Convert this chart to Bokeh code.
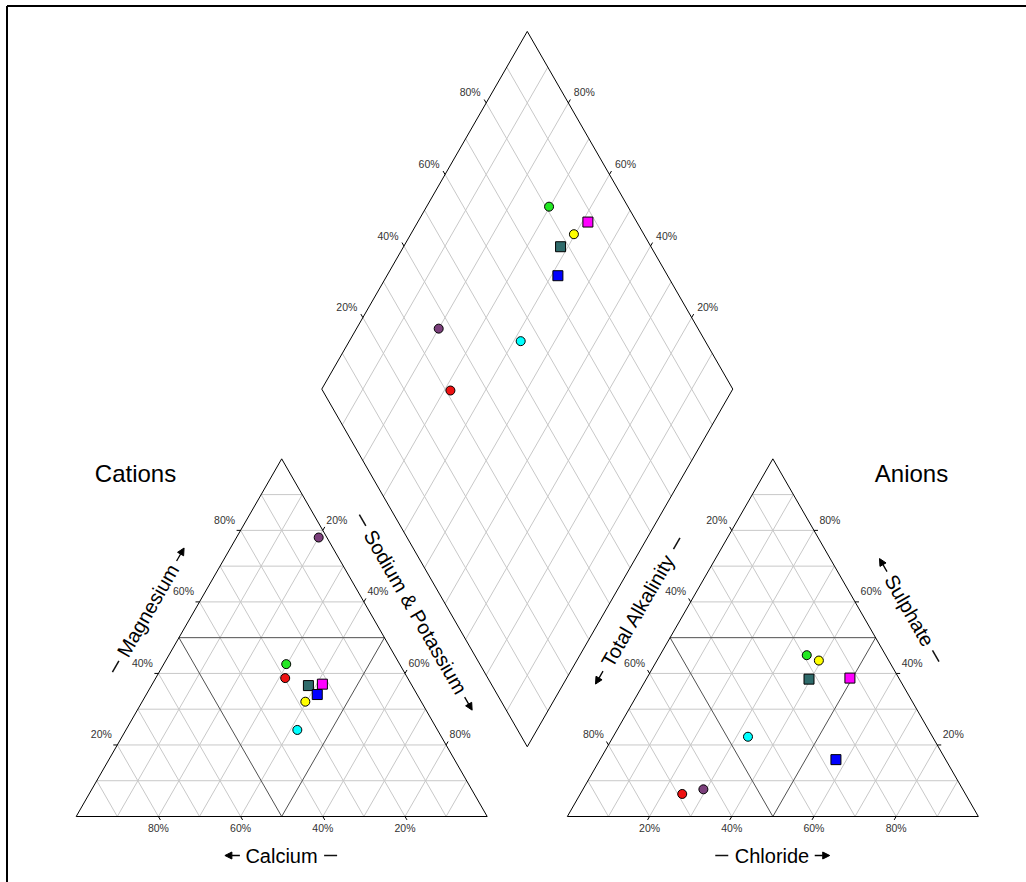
import numpy as np
from bokeh.plotting import figure
from bokeh.models import Range1d, ColumnDataSource, Arrow, NormalHead
from bokeh.embed import file_html
from bokeh.resources import INLINE
from bokeh.core.properties import value

# ---------------- data (percent of meq) ----------------
sample_colors = ["#7B3F7B", "#22E822", "#EE1111", "#2F6B6B", "#FF00FF", "#0000FF", "#FFFF00", "#00FFFF"]
sample_markers = ["circle", "circle", "circle", "square", "square", "square", "circle", "circle"]
calcium = [2.0, 27.6, 29.8, 25.2, 21.6, 24.3, 28.2, 34.1]
magnesium = [78.0, 42.6, 38.7, 36.6, 37.0, 34.1, 32.1, 24.2]
sodium_potassium = [20.0, 29.8, 31.5, 38.2, 41.4, 41.6, 39.7, 41.7]
chloride = [29.3, 35.7, 24.8, 39.6, 49.4, 57.4, 39.4, 32.8]
sulphate = [7.6, 45.1, 6.3, 38.4, 38.7, 15.9, 43.6, 22.3]
alkalinity = [63.1, 19.2, 68.9, 22.0, 11.9, 26.7, 17.0, 44.9]
tick_values = [20, 40, 60, 80]
tick_labels = ["20%", "40%", "60%", "80%"]

# ---------------- geometry ----------------
S3 = np.sqrt(3) / 2
G = 0.195            # gap between triangles (in triangle-side units)
PX_X, PX_Y = 411.0, 413.0   # pixels per unit
OX, OY = 75.7, 816.0        # position of cation triangle's lower-left corner
FONT = "Liberation Sans"

def at(px, py):
    return ((px - OX) / PX_X, (OY - py) / PX_Y)

def off(dx, dy):
    # pixel offset (dy positive = down) to unit offset
    return (dx / PX_X, -dy / PX_Y)

W, H = 1026, 882
x0, y1 = at(0, 0)
x1, y0 = at(W, H)

p = figure(width=W, height=H, x_range=Range1d(x0, x1), y_range=Range1d(y0, y1),
           output_backend="svg", toolbar_location=None, min_border=0)
p.axis.visible = False
p.grid.visible = False
p.outline_line_color = None
p.background_fill_color = "white"
p.border_fill_color = "white"

# frame lines (top & left)
bx, by = at(6.5, 5.5)
p.line([bx, x1], [by, by], line_color="black", line_width=2)
p.line([bx, bx], [by, y0], line_color="black", line_width=2)

LIGHT = "#c8c8c8"
DARK = "#505050"

def seg_collect(segs, x_a, y_a, x_b, y_b):
    segs[0].append([x_a, x_b]); segs[1].append([y_a, y_b])

light = ([], [])
dark = ([], [])
ks = [k / 10 for k in range(1, 10)]

def tri_grid(ox):
    for k in ks:
        tgt = dark if abs(k - 0.5) < 1e-9 else light
        seg_collect(tgt, ox + k / 2, k * S3, ox + 1 - k / 2, k * S3)
        seg_collect(tgt, ox + 1 - k, 0, ox + (1 - k) / 2, (1 - k) * S3)
        seg_collect(tgt, ox + k, 0, ox + k + (1 - k) / 2, (1 - k) * S3)

tri_grid(0.0)
tri_grid(1 + G)

# diamond grid
bxd, byd = 1 + G / 2, G * S3
for k in ks:
    sx, sy = bxd - k / 2, byd + k * S3
    seg_collect(light, sx, sy, sx + 0.5, sy + S3)
    sx, sy = bxd + k / 2, byd + k * S3
    seg_collect(light, sx, sy, sx - 0.5, sy + S3)

p.multi_line(light[0], light[1], line_color=LIGHT, line_width=1)
p.multi_line(dark[0], dark[1], line_color=DARK, line_width=1)

# outlines
p.line([0, 1, 0.5, 0], [0, 0, S3, 0], line_color="black", line_width=1)
p.line([1 + G, 2 + G, 1.5 + G, 1 + G], [0, 0, S3, 0], line_color="black", line_width=1)
p.line([bxd, bxd - 0.5, bxd, bxd + 0.5, bxd], [byd, byd + S3, byd + 2 * S3, byd + S3, byd],
       line_color="black", line_width=1)

# ticks and tick labels
tick_xs, tick_ys = [], []
lab_x, lab_y, lab_t = [], [], []
TL = 4.0
def add_tick(x, y, dirx, diry, label, ldx, ldy):
    n = np.hypot(dirx, diry)
    tx, ty = off(TL * dirx / n, -TL * diry / n)
    tick_xs.append([x, x + tx]); tick_ys.append([y, y + ty])
    ox_, oy_ = off(ldx, ldy)
    lab_x.append(x + ox_); lab_y.append(y + oy_); lab_t.append(label)

for v, lab in zip(tick_values, tick_labels):
    k = v / 100
    add_tick(1 - k, 0, 0.5, -S3, lab, 0, 11)
    add_tick(k / 2, k * S3, -1, 0, lab, -16, -10.5)
    add_tick(k + (1 - k) / 2, (1 - k) * S3, 0.5, S3, lab, 14, -10.5)
    add_tick(1 + G + k, 0, -0.5, -S3, lab, 0, 11)
    add_tick(1 + G + (1 - k) / 2, (1 - k) * S3, -0.5, S3, lab, -15, -10.5)
    add_tick(1 + G + 1 - k + k / 2, k * S3, 1, 0, lab, 16, -10.5)
    add_tick(bxd - 0.5 + k / 2, byd + S3 + k * S3, -0.5, S3, lab, -16, -10.5)
    add_tick(bxd + 0.5 - k / 2, byd + S3 + k * S3, 0.5, S3, lab, 16, -10.5)

p.multi_line(tick_xs, tick_ys, line_color="black", line_width=1)
p.text(lab_x, lab_y, text=lab_t, text_font=value(FONT), text_font_size=value("10.5px"),
       text_align="center", text_baseline="middle", text_color="#333333")

# titles
def title(px, py, txt, size, angle=0.0):
    x, y = at(px, py)
    p.text([x], [y], text=[txt], angle=angle, text_font=value(FONT), text_font_size=value(size),
           text_align="center", text_baseline="middle", text_color="black")

title(135, 473, "Cations", "24px")
title(911, 473, "Anions", "24px")

# approximate Arial/Liberation Sans advance widths (em)
CW = {"C": .722, "a": .556, "l": .222, "c": .5, "i": .222, "u": .556, "m": .833, "h": .556,
      "o": .556, "r": .333, "d": .556, "e": .556, "M": .833, "g": .556, "n": .556, "s": .5,
      "S": .667, " ": .278, "&": .667, "P": .667, "t": .278, "T": .611, "A": .667, "k": .5,
      "y": .5, "p": .556}

def axis_title(px, py, word, angle_deg, arrow_side, size=20):
    a = np.deg2rad(angle_deg)
    dx, dy = np.cos(a), -np.sin(a)          # page-pixel direction of reading
    title(px, py, word, f"{size}px", a)
    half = sum(CW.get(ch, .556) for ch in word) * size / 2
    d = half + 13
    acx, acy = px + arrow_side * d * dx, py + arrow_side * d * dy
    sx, sy = at(acx - arrow_side * 7.5 * dx, acy - arrow_side * 7.5 * dy)
    ex, ey = at(acx + arrow_side * 7.5 * dx, acy + arrow_side * 7.5 * dy)
    p.add_layout(Arrow(end=NormalHead(size=7, fill_color="black", line_color="black", line_width=1),
                       x_start=sx, y_start=sy, x_end=ex, y_end=ey,
                       line_color="black", line_width=1.3))
    dcx, dcy = px - arrow_side * d * dx, py - arrow_side * d * dy
    s1 = at(dcx - 6.5 * dx, dcy - 6.5 * dy)
    s2 = at(dcx + 6.5 * dx, dcy + 6.5 * dy)
    p.segment([s1[0]], [s1[1]], [s2[0]], [s2[1]], line_color="#111111", line_width=1.5)

axis_title(281, 855, "Calcium", 0, -1)
axis_title(771.5, 855, "Chloride", 0, 1)
axis_title(147.5, 610, "Magnesium", 60, 1)
axis_title(415, 611.5, "Sodium & Potassium", -60, 1)
axis_title(637.5, 610, "Total Alkalinity", 60, -1)
axis_title(909, 610, "Sulphate", -60, -1)

# ---------------- points ----------------
ca = np.array(calcium); mg = np.array(magnesium); na = np.array(sodium_potassium)
cl = np.array(chloride); so4 = np.array(sulphate); alk = np.array(alkalinity)
cs = ca + mg + na
ca, mg, na = ca / cs, mg / cs, na / cs
as_ = cl + so4 + alk
cl, so4, alk = cl / as_, so4 / as_, alk / as_

cat_x = na + mg / 2
cat_y = mg * S3
an_x = 1 + G + cl + so4 / 2
an_y = so4 * S3
camg = ca + mg
clso4 = cl + so4
dia_x = bxd + (clso4 - camg) / 2
dia_y = byd + (camg + clso4) * S3

src = ColumnDataSource(dict(cx=cat_x, cy=cat_y, ax=an_x, ay=an_y, dx=dia_x, dy=dia_y,
                            color=sample_colors, marker=sample_markers,
                            size=[9 if m == "circle" else 10 for m in sample_markers]))
for xs, ys in (("cx", "cy"), ("ax", "ay"), ("dx", "dy")):
    p.scatter(xs, ys, source=src, marker="marker", size="size", fill_color="color",
              line_color="black", line_width=1)

open("out.html", "w").write(file_html(p, INLINE))
